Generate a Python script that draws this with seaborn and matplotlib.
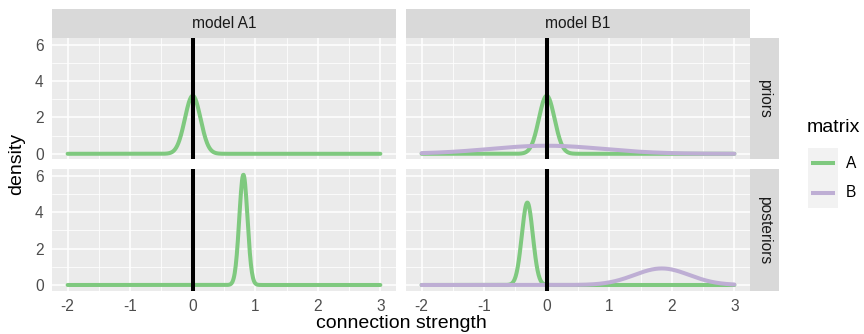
import numpy as np
import pandas as pd
import matplotlib
matplotlib.use("Agg")
import matplotlib.pyplot as plt
import seaborn as sns

# ---- data ----
models = ["model A1", "model B1"]
stages = ["priors", "posteriors"]
matrices = ["A", "B"]
curve_model = ["model A1", "model A1", "model B1", "model B1", "model B1", "model B1"]
curve_stage = ["priors", "posteriors", "priors", "priors", "posteriors", "posteriors"]
curve_matrix = ["A", "A", "A", "B", "A", "B"]
curve_mean = [0.0, 0.81, 0.0, 0.0, -0.31, 1.84]
curve_sd = [0.125, 0.0657, 0.125, 0.9, 0.0879, 0.438]
x_range = [-2, 3]
x_ticks = [-2, -1, 0, 1, 2, 3]
y_ticks = [0, 2, 4, 6]
vline_x = 0

palette = {"A": "#7FC97F", "B": "#BEAED4"}

xs = np.linspace(x_range[0], x_range[1], 600)
rows = []
for m, s, mat, mu, sd in zip(curve_model, curve_stage, curve_matrix, curve_mean, curve_sd):
    dens = np.exp(-0.5 * ((xs - mu) / sd) ** 2) / (sd * np.sqrt(2 * np.pi))
    rows.append(pd.DataFrame({"model": m, "stage": s, "matrix": mat, "x": xs, "density": dens}))
df = pd.concat(rows, ignore_index=True)

sns.set_theme(style="darkgrid")
plt.rcParams["font.family"] = ["Liberation Sans", "DejaVu Sans"]
plt.rcParams["axes.unicode_minus"] = False

W, H = 864, 334
fig = plt.figure(figsize=(W / 100, H / 100), dpi=100)
fig.patch.set_facecolor("white")

def rect(x0, y0, x1, y1):
    return [x0 / W, 1 - y1 / H, (x1 - x0) / W, (y1 - y0) / H]

SMALL = 11.2
BIG = 14.0

col_x = [(52, 396), (406, 750)]
row_y = [(38, 159.3), (169.3, 290.5)]
ymax = df["density"].max()
ylim = (-0.05 * ymax, ymax * 1.05)
xpad = 0.05 * (x_range[1] - x_range[0])

for ri, st in enumerate(stages):
    for ci, md in enumerate(models):
        ax = fig.add_axes(rect(col_x[ci][0], row_y[ri][0], col_x[ci][1], row_y[ri][1]))
        ax.set_facecolor("#EBEBEB")
        sub = df[(df["model"] == md) & (df["stage"] == st)]
        for mat in matrices:
            d = sub[sub["matrix"] == mat]
            if len(d):
                sns.lineplot(data=d, x="x", y="density", color=palette[mat], lw=2.9,
                             ax=ax, legend=False, zorder=3)
        ax.axvline(vline_x, color="black", lw=2.9, zorder=4)
        ax.set_xlim(x_range[0] - xpad, x_range[1] + xpad)
        ax.set_ylim(*ylim)
        ax.set_xticks(x_ticks)
        ax.set_yticks(y_ticks)
        ax.set_xticks([t + 0.5 for t in x_ticks[:-1]], minor=True)
        ax.set_yticks([1, 3, 5], minor=True)
        ax.grid(which="major", color="white", lw=1.1)
        ax.grid(which="minor", color="white", lw=0.55)
        ax.set_axisbelow(True)
        for sp in ax.spines.values():
            sp.set_visible(False)
        ax.set_xlabel("")
        ax.set_ylabel("")
        ax.tick_params(which="major", length=4, width=1, color="#333333",
                       labelsize=SMALL, labelcolor="#4D4D4D", pad=2)
        ax.tick_params(which="minor", length=0)
        if ci == 0:
            ax.set_yticklabels([str(t) for t in y_ticks])
        else:
            ax.tick_params(axis="y", left=False, labelleft=False)
        if ri == 1:
            ax.set_xticklabels([str(t) for t in x_ticks])
        else:
            ax.tick_params(axis="x", bottom=False, labelbottom=False)
        # top strips
        if ri == 0:
            sax = fig.add_axes(rect(col_x[ci][0], 9, col_x[ci][1], 38))
            sax.set_facecolor("#D9D9D9")
            sax.set_xticks([]); sax.set_yticks([])
            for sp in sax.spines.values():
                sp.set_visible(False)
            sax.text(0.5, 0.5, md, ha="center", va="center", fontsize=SMALL,
                     color="#1A1A1A", transform=sax.transAxes)
        # right strips
        if ci == 1:
            sax = fig.add_axes(rect(750, row_y[ri][0], 779, row_y[ri][1]))
            sax.set_facecolor("#D9D9D9")
            sax.set_xticks([]); sax.set_yticks([])
            for sp in sax.spines.values():
                sp.set_visible(False)
            sax.text(0.5, 0.5, st, ha="center", va="center", fontsize=SMALL,
                     color="#1A1A1A", rotation=-90, transform=sax.transAxes)

# axis titles
fig.text(401 / W, 1 - 324 / H, "connection strength", ha="center", va="center",
         fontsize=BIG, color="black")
fig.text(17 / W, 1 - 164 / H, "density", ha="center", va="center",
         rotation=90, fontsize=BIG, color="black")

# legend
lax = fig.add_axes(rect(808, 148, 838, 208))
lax.set_facecolor("#F2F2F2")
lax.set_xlim(0, 30); lax.set_ylim(60, 0)
lax.set_xticks([]); lax.set_yticks([])
for sp in lax.spines.values():
    sp.set_visible(False)
for i, mat in enumerate(matrices):
    yc = 15 + 30 * i
    lax.plot([3, 27], [yc, yc], color=palette[mat], lw=2.9, solid_capstyle="butt")
    fig.text(846 / W, 1 - (148 + yc) / H, mat, ha="left", va="center",
             fontsize=SMALL, color="black")
fig.text(807 / W, 1 - 128 / H, "matrix", ha="left", va="center",
         fontsize=BIG, color="black")

fig.savefig("out.png", dpi=100, facecolor="white")
